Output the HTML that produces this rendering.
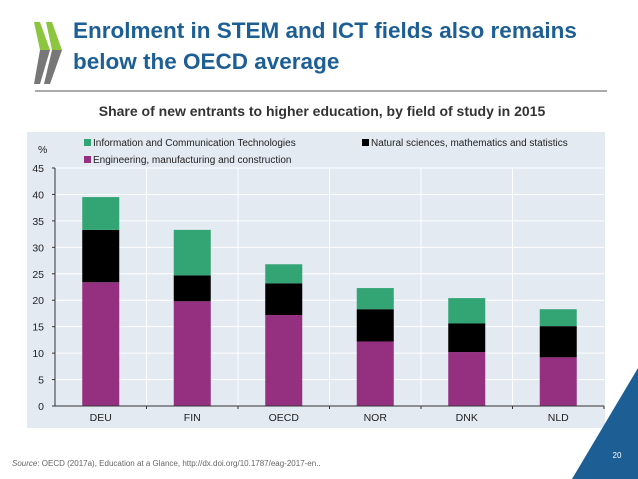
<!DOCTYPE html>
<html><head><meta charset="utf-8"><style>
body{margin:0;width:638px;height:479px;overflow:hidden;background:#fff;font-family:"Liberation Sans",sans-serif;position:relative}
</style></head><body>
<svg width="638" height="479" style="position:absolute;left:0;top:0">
<g>
<polygon points="34,22 40,22 50,50 40,50" fill="#8cc63f"/>
<polygon points="40,50 50,50 40,84 34,84" fill="#777"/>
<polygon points="46,22 52,22 62,50 52,50" fill="#8cc63f"/>
<polygon points="52,50 62,50 50,84 44,84" fill="#777"/>
</g>
<text x="73" y="38" font-size="22.5" font-weight="bold" fill="#1d5f94">Enrolment in STEM and ICT fields also remains</text>
<text x="73" y="69" font-size="22.5" font-weight="bold" fill="#1d5f94">below the OECD average</text>
<line x1="35" y1="91" x2="607" y2="91" stroke="#555" stroke-width="1"/>
<text x="322" y="116" text-anchor="middle" font-size="14" font-weight="bold" fill="#333">Share of new entrants to higher education, by field of study in 2015</text>
<rect x="27" y="132" width="578" height="296" fill="#e3eaf2"/>
<g id="legend" font-size="10.5" fill="#222"></g>
<text x="38" y="153" font-size="10.5" fill="#222">%</text>
<g id="grid"></g><g id="bars"></g><g id="axes"></g>
<polygon points="572,479 638,479 638,368" fill="#1d5f94"/>
<text x="617" y="458" text-anchor="middle" font-size="8" fill="#fff">20</text>
<text x="12" y="466" font-size="8" fill="#666"><tspan font-style="italic">Source</tspan>: OECD (2017a), Education at a Glance, http://dx.doi.org/10.1787/eag-2017-en..</text>
</svg>
<script>
const categories=["DEU","FIN","OECD","NOR","DNK","NLD"];
const engineering=[23.4,19.8,17.2,12.2,10.2,9.2];
const naturalSci=[9.9,4.9,6.0,6.1,5.4,5.9];
const ict=[6.2,8.6,3.6,4.0,4.8,3.2];
const yTicks=[0,5,10,15,20,25,30,35,40,45];
const NS="http://www.w3.org/2000/svg";
const x0=55,x1=604,y0=406,y45=168;
const band=(x1-x0)/categories.length;
const y=v=>y0-(v/45)*(y0-y45);
function mk(t,a,p){const e=document.createElementNS(NS,t);for(const k in a)e.setAttribute(k,a[k]);p.appendChild(e);return e;}
const grid=document.getElementById('grid'),bars=document.getElementById('bars'),axes=document.getElementById('axes'),legend=document.getElementById('legend');
yTicks.forEach(t=>{
 if(t>0){const l=mk('line',{x1:x0,x2:x1,y1:y(t),y2:y(t),stroke:'#fff','stroke-width':1},grid);
 
 }
 const tx=mk('text',{x:44,y:y(t)+4,'text-anchor':'end','font-size':10.5,fill:'#222'},axes);tx.textContent=t;
 
 
 mk('line',{x1:x0-3,x2:x0,y1:y(t),y2:y(t),stroke:'#333'},axes);
});
for(let i=1;i<categories.length;i++){const l=mk('line',{x1:x0+band*i,x2:x0+band*i,y1:y45,y2:y0,stroke:'#fff'},grid);
 
 }
mk('line',{x1:x0,x2:x0,y1:y45,y2:y0,stroke:'#333'},axes);
mk('line',{x1:x0,x2:x1,y1:y0,y2:y0,stroke:'#333'},axes);
const colors=['#953080','#000','#33a474'];
const names=['engineering','natural-sciences','ict'];
categories.forEach((c,i)=>{
 const cx=x0+band*(i+0.5),w=37;let base=0;
 [engineering[i],naturalSci[i],ict[i]].forEach((v,s)=>{
  const r=mk('rect',{x:cx-w/2,y:y(base+v),width:w,height:y(base)-y(base+v),fill:colors[s]},bars);
  
  
  base+=v;});
 mk('line',{x1:x0+band*(i+1),x2:x0+band*(i+1),y1:y0,y2:y0+3,stroke:'#333'},axes);
 const t=mk('text',{x:cx,y:y0+15,'text-anchor':'middle','font-size':10.5,fill:'#222'},axes);t.textContent=c;
 
 
});
const leg=[["Information and Communication Technologies",'#33a474',84,146],["Natural sciences, mathematics and statistics",'#000',362,146],["Engineering, manufacturing and construction",'#953080',84,163]];
leg.forEach((L,k)=>{
 const g=mk('g',{},legend);
 
 
 mk('rect',{x:L[2],y:L[3]-7,width:7,height:7,fill:L[1]},g);
 const t=mk('text',{x:L[2]+9,y:L[3],'font-size':10,fill:'#222'},g);t.textContent=L[0];
});
</script>
</body></html>
